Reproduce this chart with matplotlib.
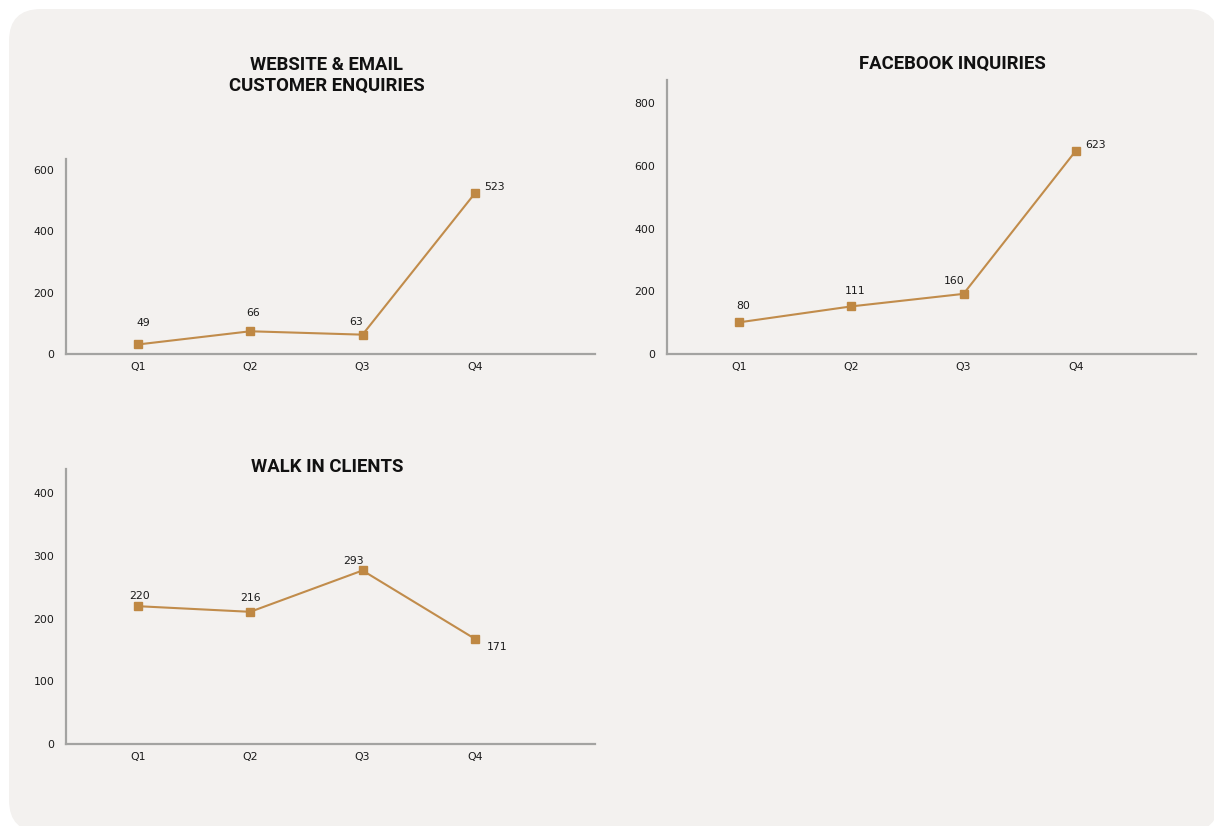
import matplotlib
matplotlib.use("Agg")
import matplotlib.pyplot as plt
from matplotlib.patches import FancyBboxPatch
from matplotlib.transforms import IdentityTransform

# ---------------- data ----------------
quarters = ["Q1", "Q2", "Q3", "Q4"]

web_title = "WEBSITE & EMAIL\nCUSTOMER ENQUIRIES"
web_values = [31, 74, 63, 523]
web_labels = ["49", "66", "63", "523"]
web_yticks = [0, 200, 400, 600]

fb_title = "FACEBOOK INQUIRIES"
fb_values = [101, 152, 192, 649]
fb_labels = ["80", "111", "160", "623"]
fb_yticks = [0, 200, 400, 600, 800]

walk_title = "WALK IN CLIENTS"
walk_values = [220, 211, 277, 168]
walk_labels = ["220", "216", "293", "171"]
walk_yticks = [0, 100, 200, 300, 400]

# ---------------- style ----------------
W, H = 1214, 826
LINE = "#c18c4b"
MARK = "#bf8843"
SPINE = "#a3a3a1"
PANEL = "#f3f1ef"
TXT = "#1a1a1a"
TICK_FONT = "DejaVu Sans"
TITLE_FONT = "Roboto"
FS = 7.8

fig = plt.figure(figsize=(W / 100, H / 100), dpi=100)
fig.patch.set_facecolor("white")

panel = FancyBboxPatch((9, -6), 1210, H + 6 - 9,
                       boxstyle="round,pad=0,rounding_size=32",
                       transform=IdentityTransform(), facecolor=PANEL,
                       edgecolor="none", zorder=-5)
fig.add_artist(panel)


def px_axes(left, right, top, bottom):
    return [left / W, 1 - bottom / H, (right - left) / W, (bottom - top) / H]


def style_axes(ax, ylim, yticks):
    ax.set_facecolor("none")
    for s in ["top", "right"]:
        ax.spines[s].set_visible(False)
    for s in ["left", "bottom"]:
        ax.spines[s].set_color(SPINE)
        ax.spines[s].set_linewidth(1.6)
    ax.set_xlim(-0.64, 4.07)
    ax.set_ylim(*ylim)
    ax.set_xticks(range(len(quarters)))
    ax.set_xticklabels(quarters)
    ax.set_yticks(yticks)
    ax.set_yticklabels([str(t) for t in yticks])
    ax.tick_params(axis="y", length=0, pad=8.5, labelsize=FS, labelcolor=TXT)
    ax.tick_params(axis="x", length=0, pad=6.0, labelsize=FS, labelcolor=TXT)
    for lab in ax.get_xticklabels() + ax.get_yticklabels():
        lab.set_fontfamily(TICK_FONT)


def draw(ax, values, labels, offsets):
    x = list(range(len(values)))
    ax.plot(x, values, color=LINE, lw=1.5, marker="s", markersize=5.8,
            markerfacecolor=MARK, markeredgecolor=MARK, clip_on=False, zorder=3)
    for xi, v, lab, (dx, dy) in zip(x, values, labels, offsets):
        ax.annotate(lab, (xi, v), xytext=(dx, dy), textcoords="offset pixels",
                    ha="center", va="center", fontsize=FS, color=TXT,
                    family=TICK_FONT)


# Website & Email
ax1 = fig.add_axes(px_axes(66, 595, 159, 354))
style_axes(ax1, (0, 635), web_yticks)
draw(ax1, web_values, web_labels, [(5, 21), (2.5, 18), (-6, 12.5), (20, 6.5)])

# Facebook
ax2 = fig.add_axes(px_axes(667, 1196, 80, 354))
style_axes(ax2, (0, 875), fb_yticks)
draw(ax2, fb_values, fb_labels, [(4.5, 16), (3.5, 15.3), (-9, 12.7), (19.5, 6)])

# Walk in
ax3 = fig.add_axes(px_axes(66, 595, 469, 744))
style_axes(ax3, (0, 439), walk_yticks)
draw(ax3, walk_values, walk_labels, [(1.6, 10), (0.5, 13.7), (-9.5, 9), (22, -8.4)])


# titles
def title(x, y, s):
    fig.text(x / W, 1 - y / H, s, ha="center", va="center", fontsize=13.3,
             fontweight="bold", family=TITLE_FONT, color="#111111",
             linespacing=1.2)


title(327, 75.5, web_title)
title(952, 63.5, fb_title)
title(327, 467, walk_title)

fig.savefig("out.png", dpi=100)
